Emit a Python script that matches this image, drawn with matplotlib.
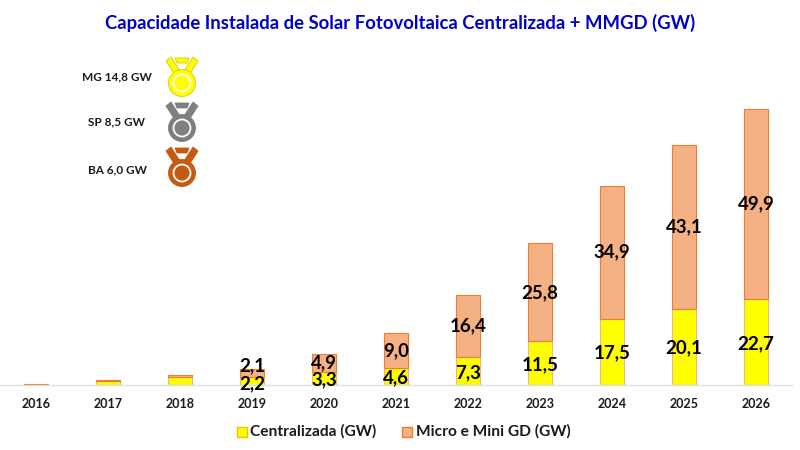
#!/usr/bin/env python

import matplotlib.pyplot as plt
from matplotlib.patches import Circle, Polygon, Rectangle

plt.rcParams['font.family'] = ['Lato', 'DejaVu Sans']

years = ['2016', '2017', '2018', '2019', '2020', '2021', '2022', '2023', '2024', '2025', '2026']
central = [0.05, 1.0, 2.0, 2.2, 3.3, 4.6, 7.3, 11.5, 17.5, 20.1, 22.7]
mmgd = [0.1, 0.3, 0.6, 2.1, 4.9, 9.0, 16.4, 25.8, 34.9, 43.1, 49.9]
central_lbl = ['', '', '', '2,2', '3,3', '4,6', '7,3', '11,5', '17,5', '20,1', '22,7']
mmgd_lbl = ['', '', '', '2,1', '4,9', '9,0', '16,4', '25,8', '34,9', '43,1', '49,9']

states = ['MG 14,8 GW', 'SP 8,5 GW', 'BA 6,0 GW']
medal_colors = ['#FFFF00', '#7F7F7F', '#C55A11']
medal_edges = ['#D8C800', '#7F7F7F', '#C55A11']

W, H = 800, 450

YELLOW = '#FFFF00'
SALMON = '#F4B183'
EDGE = '#ED7D31'


def draw_medal(ax, cx, cy, color, edge):
    """ Medal in pixel coordinates, cx, cy is the centre of the disc """
    ax.add_patch(Polygon([(cx-16, cy-22), (cx-11, cy-26), (cx-2, cy-12), (cx-7, cy-8)],
                         fc=color, ec=edge, lw=0.6))
    ax.add_patch(Polygon([(cx+16, cy-22), (cx+11, cy-26), (cx+2, cy-12), (cx+7, cy-8)],
                         fc=color, ec=edge, lw=0.6))
    ax.add_patch(Polygon([(cx-7, cy-25), (cx+7, cy-25), (cx+5, cy-20), (cx-5, cy-20)],
                         fc=color, ec=edge, lw=0.6))
    ax.add_patch(Circle((cx, cy), 13.5, fc=color, ec=edge, lw=0.6))
    ax.add_patch(Circle((cx, cy), 8.5, fc=color, ec='white', lw=1.3))


def main():
    fig = plt.figure(figsize=(W/100, H/100), dpi=100)

    # pixel box of the plot, y baseline at 385
    left, right, top, base = 0, 792, 95, 385
    ax = fig.add_axes([left/W, 1 - base/H, (right-left)/W, (base-top)/H])
    scale = 3.8
    ax.set_ylim(0, (base-top)/scale)
    pos = list(range(len(years)))
    ax.set_xlim(-0.5, len(years) - 0.5)

    ax.bar(pos, central, width=0.33, color=YELLOW, edgecolor=SALMON, linewidth=0.8, label='Centralizada (GW)')
    ax.bar(pos, mmgd, width=0.33, bottom=central, color=SALMON, edgecolor=EDGE, linewidth=0.8,
           label='Micro e Mini GD (GW)')

    for i in pos:
        # the 2019 labels sit apart in the original
        nudge = (-2, 5) if years[i] == '2019' else (-1, 0)
        if central_lbl[i]:
            ax.annotate(central_lbl[i], (i, central[i]/2), xytext=(0, nudge[0]), textcoords='offset points',
                        ha='center', va='center', fontsize=13.5, fontweight='bold', color='black',
                        annotation_clip=False)
        if mmgd_lbl[i]:
            ax.annotate(mmgd_lbl[i], (i, central[i] + mmgd[i]/2), xytext=(0, nudge[1]), textcoords='offset points',
                        ha='center', va='center', fontsize=13.5, fontweight='bold', color='black',
                        annotation_clip=False)

    ax.set_xticks(pos)
    ax.set_xticklabels(years, fontsize=9, fontweight='bold', color='#1a1a1a')
    ax.set_yticks([])
    ax.tick_params(axis='x', length=0, pad=9)
    for s in ['top', 'left', 'right']:
        ax.spines[s].set_visible(False)
    ax.spines['bottom'].set_color('#E0E0E0')
    ax.spines['bottom'].set_linewidth(1.0)

    # overlay in image pixels for title, medals and legend
    ov = fig.add_axes([0, 0, 1, 1])
    ov.set_xlim(0, W)
    ov.set_ylim(H, 0)
    ov.axis('off')
    ov.patch.set_alpha(0)

    ov.text(400, 23, 'Capacidade Instalada de Solar Fotovoltaica Centralizada + MMGD (GW)',
            ha='center', va='center', fontsize=13.3, fontweight='bold', color='#0000C8')

    for label, color, edge, ty, my in zip(states, medal_colors, medal_edges,
                                          [77, 122, 170], [83, 128, 173]):
        ov.text(117, ty, label, ha='center', va='center', fontsize=8.5, fontweight='bold', color='#1a1a1a')
        draw_medal(ov, 182, my, color, edge)

    # legend
    ov.add_patch(Rectangle((237, 427), 9.5, 10, fc=YELLOW, ec='#E6C800', lw=1.0))
    ov.text(250, 431.5, 'Centralizada (GW)', ha='left', va='center', fontsize=11.2, fontweight='bold',
            color='#1a1a1a')
    ov.add_patch(Rectangle((402, 427), 9.5, 10, fc=SALMON, ec=EDGE, lw=1.0))
    ov.text(416, 431.5, 'Micro e Mini GD (GW)', ha='left', va='center', fontsize=11.2, fontweight='bold',
            color='#1a1a1a')

    fig.savefig('out.png', dpi=100)


if __name__ == "__main__":
    main()
